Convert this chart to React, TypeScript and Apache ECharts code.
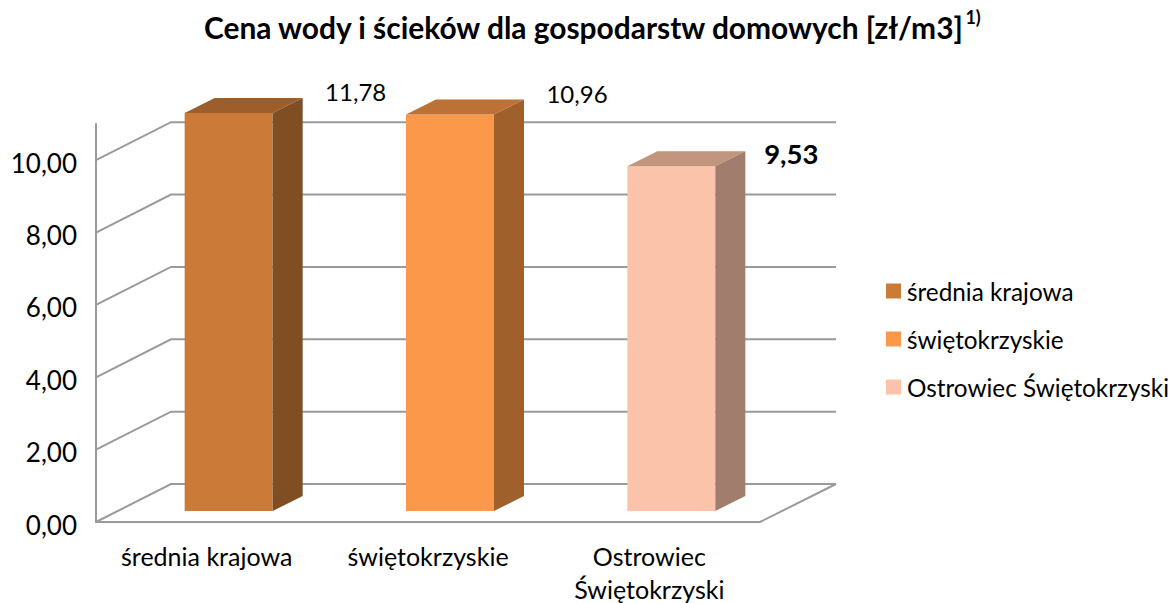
import React, { useEffect, useRef } from "react";
import * as echarts from "echarts";

const categories = ["średnia krajowa", "świętokrzyskie", "Ostrowiec Świętokrzyski"];
const seriesValues = [11.78, 10.96, 9.53];
const gridTicks = [0, 2, 4, 6, 8, 10];
const axisMax = 11;
const frontColors = ["#CB7B37", "#FB9849", "#FCC3AB"];
const topColors = ["#9C5F2B", "#BC7236", "#C2957F"];
const sideColors = ["#7F4E22", "#A0602C", "#A17D6D"];
const labelOffsets = [[127, -22], [127, -21], [120, -13]];
const labelBold = [false, false, true];

const FONT = "Lato";
const LINE = "#9A9A9A";
const fmt = (v: number) => v.toFixed(2).replace(".", ",");

export default function App() {
  const ref = useRef<HTMLDivElement>(null);
  useEffect(() => {
    const chart = echarts.init(ref.current!, undefined, { renderer: "svg" });

    const wallSeries = {
      type: "custom",
      name: "walls",
      silent: true,
      z: 1,
      data: gridTicks.map((t) => [0, t]),
      encode: { x: 0, y: 1 },
      renderItem: (params: any, api: any) => {
        const cs = params.coordSys;
        const y = api.coord([0, api.value(1)])[1];
        const style = { stroke: LINE, lineWidth: 2, fill: "none" };
        const children: any[] = [
          {
            type: "polyline",
            shape: { points: [[cs.x, y], [cs.x + 75, y - 38], [cs.x + cs.width + 76, y - 38]] },
            style,
          },
        ];
        if (api.value(1) === 0) {
          children.push({
            type: "line",
            shape: { x1: cs.x + cs.width, y1: y, x2: cs.x + cs.width + 76, y2: y - 38 },
            style,
          });
        }
        return { type: "group", children };
      },
    };

    const barSeries = categories.map((name, idx) => ({
      type: "custom",
      name,
      z: 2,
      itemStyle: { color: frontColors[idx] },
      data: [[idx, seriesValues[idx]]],
      encode: { x: 0, y: 1 },
      renderItem: (_params: any, api: any) => {
        const value = api.value(1);
        const top = api.coord([api.value(0), Math.min(value, axisMax)]);
        const base = api.coord([api.value(0), 0]);
        const cx = top[0] + 22;
        const yTop = top[1] - 11;
        const yBase = base[1] - 11;
        const hw = 44;
        const dx = 30;
        const dy = 15;
        return {
          type: "group",
          children: [
            {
              type: "rect",
              shape: { x: cx - hw, y: yTop, width: hw * 2, height: yBase - yTop },
              style: { fill: frontColors[idx] },
            },
            {
              type: "polygon",
              shape: {
                points: [
                  [cx - hw, yTop],
                  [cx - hw + dx, yTop - dy],
                  [cx + hw + dx, yTop - dy],
                  [cx + hw, yTop],
                ],
              },
              style: { fill: topColors[idx] },
            },
            {
              type: "polygon",
              shape: {
                points: [
                  [cx + hw, yTop],
                  [cx + hw + dx, yTop - dy],
                  [cx + hw + dx, yBase - dy],
                  [cx + hw, yBase],
                ],
              },
              style: { fill: sideColors[idx] },
            },
            {
              type: "text",
              style: {
                x: cx + labelOffsets[idx][0],
                y: yTop + labelOffsets[idx][1],
                text: fmt(value),
                align: "center",
                verticalAlign: "middle",
                fontFamily: FONT,
                fontSize: labelBold[idx] ? 27.5 : 24,
                fontWeight: labelBold[idx] ? "bold" : "normal",
                fill: "#000",
              },
            },
          ],
        };
      },
    }));

    chart.setOption({
      animation: false,
      backgroundColor: "#fff",
      title: {
        left: 204,
        top: 3,
        padding: 0,
        text: "{t|Cena wody i ścieków dla gospodarstw domowych [zł/m3]}{s|1)}",
        textStyle: {
          rich: {
            t: { fontFamily: FONT, fontSize: 29.9, fontWeight: "bold", color: "#000", lineHeight: 48 },
            s: { fontFamily: FONT, fontSize: 18, fontWeight: "bold", color: "#000", verticalAlign: "top", lineHeight: 40, padding: [5, 0, 0, 0] },
          },
        },
      },
      legend: {
        orient: "vertical",
        left: 886,
        top: 279,
        padding: 0,
        icon: "rect",
        itemWidth: 15,
        itemHeight: 15,
        itemGap: 24,
        data: categories,
        selectedMode: false,
        textStyle: { fontFamily: FONT, fontSize: 24.3, color: "#000", padding: [0, 0, 4, 1] },
      },
      grid: { left: 96, top: 124, width: 664, height: 398, outerBoundsMode: "none" },
      xAxis: {
        type: "category",
        data: categories,
        axisLine: { lineStyle: { color: LINE, width: 2 } },
        axisTick: { show: false },
        splitLine: { show: false },
        axisLabel: {
          margin: 17,
          fontFamily: FONT,
          fontSize: 25,
          color: "#000",
          lineHeight: 33,
          interval: 0,
          formatter: (v: string) => v.replace("Ostrowiec ", "Ostrowiec\n"),
        },
      },
      yAxis: {
        type: "value",
        min: 0,
        max: axisMax,
        interval: 2,
        axisLine: { show: true, lineStyle: { color: LINE, width: 2 } },
        axisTick: { show: false },
        splitLine: { show: false },
        axisLabel: {
          margin: 19,
          fontFamily: FONT,
          fontSize: 26,
          color: "#000",
          verticalAlign: "top",
          lineHeight: 5,
          showMaxLabel: false,
          formatter: (v: number) => (v > 10 ? "" : fmt(v)),
        },
      },
      series: [wallSeries, ...barSeries],
    });
    return () => chart.dispose();
  }, []);
  return <div ref={ref} style={{ position: "absolute", left: 0, top: 0, width: 1172, height: 603 }} />;
}
